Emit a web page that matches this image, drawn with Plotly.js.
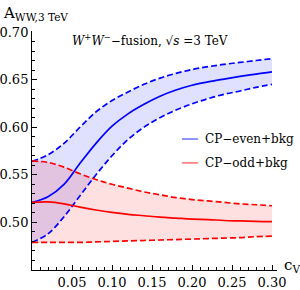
<!DOCTYPE html>
<html>
<head>
<meta charset="utf-8">
<script src="https://cdn.plot.ly/plotly-3.0.1.min.js"></script>
<style>html,body{margin:0;padding:0;background:#fff;}#chart{width:300px;height:290px;}</style>
</head>
<body>
<div id="chart"></div>
<script>
// c_V grid
const cV = [0, 0.02, 0.04, 0.06, 0.08, 0.10, 0.12, 0.14, 0.16, 0.18, 0.20, 0.22, 0.24, 0.26, 0.28, 0.30];
// CP-even + bkg
const evenMid = [0.521, 0.527, 0.540, 0.562, 0.583, 0.601, 0.614, 0.624, 0.6325, 0.639, 0.644, 0.6475, 0.6505, 0.6533, 0.6558, 0.658];
const evenHi  = [0.564, 0.571, 0.583, 0.600, 0.616, 0.628, 0.637, 0.645, 0.6515, 0.6565, 0.6605, 0.6635, 0.666, 0.668, 0.670, 0.672];
const evenLo  = [0.479, 0.488, 0.506, 0.528, 0.550, 0.570, 0.587, 0.600, 0.610, 0.618, 0.6245, 0.630, 0.6345, 0.638, 0.6418, 0.645];
// CP-odd + bkg
const oddMid = [0.521, 0.5215, 0.5195, 0.516, 0.513, 0.5105, 0.5085, 0.507, 0.5055, 0.5045, 0.5035, 0.503, 0.502, 0.5015, 0.501, 0.5007];
const oddHi  = [0.5645, 0.563, 0.558, 0.551, 0.545, 0.540, 0.536, 0.532, 0.529, 0.526, 0.524, 0.5225, 0.521, 0.5195, 0.5185, 0.5175];
const oddLo  = [0.479, 0.479, 0.479, 0.479, 0.4795, 0.480, 0.4805, 0.481, 0.4815, 0.482, 0.4825, 0.483, 0.4835, 0.484, 0.485, 0.4855];

const yTicks = [0.50, 0.55, 0.60, 0.65, 0.70];
const xTicks = [0.05, 0.10, 0.15, 0.20, 0.25, 0.30];
const legendLabels = ["CP\u2212even+bkg", "CP\u2212odd+bkg"];

const BLUE = "rgb(0,0,255)", RED = "rgb(255,0,0)";
const sp = {shape: "spline", smoothing: 1};

function band(lo, hi, fc) {
  return [
    {x: cV, y: lo, mode: "lines", line: Object.assign({width: 0}, sp), hoverinfo: "skip", showlegend: false},
    {x: cV, y: hi, mode: "lines", fill: "tonexty", fillcolor: fc, line: Object.assign({width: 0}, sp), hoverinfo: "skip", showlegend: false}
  ];
}
function ln(y, color, dash) {
  return {x: cV, y: y, mode: "lines", line: Object.assign({color: color, width: 1.7, dash: dash}, sp), hoverinfo: "skip", showlegend: false};
}

const data = [].concat(
  band(evenLo, evenHi, "rgba(0,0,255,0.12)"),
  band(oddLo, oddHi, "rgba(255,0,0,0.12)"),
  [ln(evenHi, BLUE, "6px,3px"), ln(evenLo, BLUE, "6px,3px"),
   ln(oddHi, RED, "6px,3px"), ln(oddLo, RED, "6px,3px"),
   ln(evenMid, BLUE, "solid"), ln(oddMid, RED, "solid")]
);

const FONT = "DejaVu Serif";
const axisCommon = {
  showline: true, linecolor: "#000", linewidth: 1, mirror: false,
  showgrid: false, zeroline: false, ticks: "inside", ticklen: 5, tickwidth: 1, tickcolor: "#000",
  tickfont: {family: FONT, size: 13, color: "#000"}, tickformat: ".2f", tickmode: "array",
  minor: {dtick: 0.01, tick0: 0, ticks: "inside", ticklen: 3, tickwidth: 1, tickcolor: "#000", showgrid: false}
};

const layout = {
  width: 300, height: 290,
  margin: {l: 32, r: 23, t: 31, b: 20},
  paper_bgcolor: "#fff", plot_bgcolor: "#fff",
  font: {family: FONT, color: "#000"},
  xaxis: Object.assign({}, axisCommon, {range: [0, 0.30625], tickvals: xTicks}),
  yaxis: Object.assign({}, axisCommon, {range: [0.45, 0.701], tickvals: yTicks}),
  shapes: [
    {type: "line", xref: "paper", yref: "paper", x0: 0.612, x1: 0.678, y0: 0.548, y1: 0.548, line: {color: "rgba(0,0,255,0.5)", width: 1.7}},
    {type: "line", xref: "paper", yref: "paper", x0: 0.612, x1: 0.678, y0: 0.448, y1: 0.448, line: {color: "rgba(255,0,0,0.5)", width: 1.7}}
  ],
  annotations: [
    {xref: "paper", yref: "paper", x: 0.698, y: 0.548, xanchor: "left", yanchor: "middle", showarrow: false,
     text: legendLabels[0], font: {family: FONT, size: 12, color: "#000"}},
    {xref: "paper", yref: "paper", x: 0.698, y: 0.448, xanchor: "left", yanchor: "middle", showarrow: false,
     text: legendLabels[1], font: {family: FONT, size: 12, color: "#000"}},
    {xref: "paper", yref: "paper", x: 0.155, y: 0.962, xanchor: "left", yanchor: "middle", showarrow: false,
     text: "<i>W</i><sup>+</sup><i>W</i><sup>\u2212</sup>\u2212fusion, \u221A<i>s</i> =3 TeV",
     font: {family: FONT, size: 12, color: "#000"}},
    {xref: "paper", yref: "paper", x: -0.125, y: 1.075, xanchor: "left", yanchor: "middle", showarrow: false,
     text: "A<sub>WW,3 TeV</sub>", font: {family: FONT, size: 15, color: "#000"}},
    {xref: "paper", yref: "paper", x: 1.02, y: 0.02, xanchor: "left", yanchor: "middle", showarrow: false,
     text: "c<sub>V</sub>", font: {family: FONT, size: 15, color: "#000"}}
  ]
};

Plotly.newPlot("chart", data, layout, {staticPlot: true, displayModeBar: false});
</script>
</body>
</html>
